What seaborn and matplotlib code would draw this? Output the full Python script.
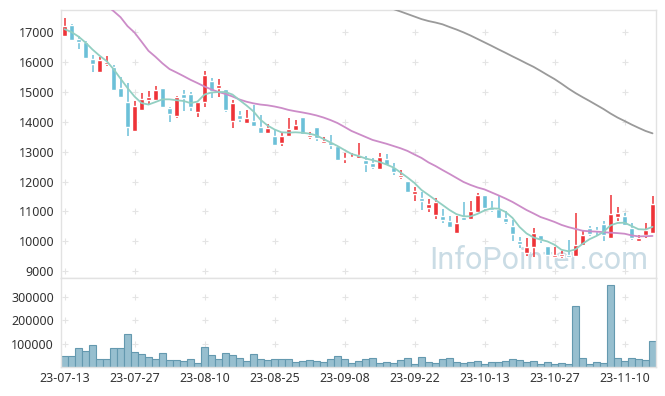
import numpy as np
import pandas as pd
import matplotlib
matplotlib.use("Agg")
import matplotlib.pyplot as plt
import seaborn as sns

# x-axis labels, one every 10 trading days
tick_labels = ["23-07-13", "23-07-27", "23-08-10", "23-08-25", "23-09-08",
               "23-09-22", "23-10-13", "23-10-27", "23-11-10"]

# daily OHLC
opens = [16890, 17250, 16780, 16690, 16110, 15680, 15950, 15840, 15130, 14660,
         13700, 14390, 14730, 14740, 15130, 14450, 14210, 14920, 14920, 14340,
         14660, 15370, 15150, 15090, 14040, 14230, 13950, 14030, 13840, 13640,
         13530, 13300, 13510, 13730, 14160, 13490, 13830, 13300, 13330, 13200,
         12750, 12780, 12800, 12720, 12630, 12430, 12750, 12470, 12160, 12020,
         11570, 11450, 11120, 10890, 10850, 10680, 10290, 10810, 10740, 10990,
         11550, 11090, 11090, 10760, 10520, 10010, 9600, 9790, 10200, 9840,
         9460, 9510, 9540, 9510, 9880, 10430, 10380, 10580, 10100, 10820,
         10850, 10430, 9990, 10210, 10290]
highs = [17470, 17280, 16870, 16700, 16250, 16170, 16200, 15920, 15490, 15290,
         14710, 14970, 15040, 15210, 15140, 14500, 14870, 15070, 14990, 14660,
         15700, 15460, 15450, 15090, 14740, 14370, 14400, 14570, 14230, 13920,
         13750, 13650, 14120, 14060, 14160, 13670, 13830, 13500, 13570, 13200,
         12950, 12950, 13280, 12860, 12780, 12970, 12920, 12610, 12370, 12020,
         11830, 11640, 11410, 11450, 11070, 10850, 10850, 11300, 11330, 11610,
         11550, 11350, 11520, 11000, 10710, 10130, 10100, 10430, 10200, 9840,
         9820, 9670, 10040, 10960, 10380, 10500, 10490, 10660, 11550, 11160,
         10960, 10620, 10210, 10620, 11520]
lows = [16880, 16750, 16450, 16140, 15660, 15680, 15860, 15080, 14820, 13520,
        13700, 14390, 14560, 14740, 14450, 14010, 14120, 14360, 14360, 14170,
        14500, 14790, 14840, 14330, 13780, 14010, 13950, 13870, 13640, 13640,
        13220, 13200, 13500, 13730, 13590, 13420, 13350, 13300, 13090, 12720,
        12610, 12780, 12800, 12330, 12410, 12430, 12540, 12220, 12090, 11660,
        11360, 11060, 10990, 10740, 10600, 10490, 10290, 10700, 10740, 10990,
        11020, 10990, 10760, 10590, 9990, 9760, 9490, 9460, 9930, 9540,
        9460, 9430, 9470, 9510, 9880, 10160, 10210, 9990, 10100, 10660,
        10550, 10040, 9990, 10100, 10290]
closes = [17200, 16750, 16690, 16140, 15940, 16070, 16010, 15080, 14820, 13820,
          14530, 14770, 14830, 15060, 14500, 14260, 14820, 14810, 14510, 14660,
          15560, 15050, 15240, 14400, 14640, 14100, 14130, 13870, 13640, 13800,
          13230, 13530, 13760, 13900, 13600, 13560, 13450, 13370, 13240, 12720,
          12800, 12820, 12900, 12590, 12500, 12830, 12550, 12330, 12230, 11660,
          11690, 11360, 11230, 11320, 10710, 10490, 10610, 10720, 11000, 11550,
          11120, 11060, 10760, 10650, 10250, 9900, 9820, 10290, 10040, 9540,
          9540, 9540, 9470, 9880, 10210, 10230, 10340, 10210, 10910, 10960,
          10550, 10100, 10120, 10380, 11230]
volumes = [47000, 47000, 81000, 69000, 94000, 34000, 34000, 81000, 81000, 141000,
           64000, 56000, 43000, 34000, 60000, 30000, 30000, 26000, 34000, 17000,
           86000, 51000, 34000, 60000, 51000, 39000, 26000, 56000, 34000, 30000,
           34000, 34000, 34000, 21000, 26000, 30000, 26000, 21000, 34000, 47000,
           34000, 17000, 26000, 34000, 39000, 17000, 21000, 17000, 30000, 39000,
           13000, 43000, 21000, 17000, 34000, 39000, 21000, 17000, 21000, 26000,
           13000, 21000, 21000, 26000, 34000, 30000, 21000, 26000, 13000, 21000,
           13000, 17000, 13000, 261000, 39000, 13000, 21000, 17000, 351000, 39000,
           26000, 39000, 34000, 30000, 113000]

# moving averages as drawn (5, 20 and 60 day)
ma5 = [17110, 17010, 16860, 16660, 16425, 16220, 16040, 15770, 15450, 15135,
       14850, 14630, 14580, 14665, 14755, 14755, 14725, 14700, 14630, 14680,
       14915, 14985, 15000, 15000, 14915, 14730, 14550, 14350, 14070, 13880,
       13745, 13650, 13640, 13650, 13635, 13605, 13545, 13425, 13310, 13190,
       13055, 12925, 12855, 12775, 12715, 12655, 12570, 12470, 12305, 12135,
       11950, 11715, 11550, 11380, 11215, 11045, 10905, 10835, 10830, 10915,
       11030, 11100, 11090, 10980, 10780, 10478, 10260, 10125, 10052, 9990,
       9880, 9710, 9660, 9725, 9910, 10065, 10175, 10310, 10530, 10610,
       10620, 10510, 10400, 10390, 10480]
ma20 = [None, None, None, None, None, None, 17900, 17715, 17510, 17210,
        16995, 16690, 16380, 16180, 15960, 15770, 15655, 15535, 15410, 15300,
        15185, 15085, 15000, 14935, 14850, 14750, 14675, 14620, 14580, 14555,
        14515, 14465, 14400, 14355, 14315, 14270, 14215, 14145, 14060, 13960,
        13830, 13695, 13595, 13495, 13395, 13330, 13265, 13190, 13115, 13025,
        12905, 12790, 12640, 12520, 12385, 12255, 12120, 11985, 11885, 11800,
        11735, 11635, 11535, 11430, 11315, 11180, 11045, 10930, 10810, 10730,
        10645, 10545, 10470, 10410, 10350, 10330, 10320, 10300, 10285, 10270,
        10250, 10195, 10160, 10165, 10175]
ma60 = [None] * 46 + [17850, 17780, 17700, 17615,
        17530, 17445, 17380, 17330, 17270, 17180, 17095, 17000, 16895, 16780,
        16665, 16550, 16430, 16315, 16195, 16080, 15960, 15845, 15710, 15570,
        15435, 15280, 15115, 14965, 14830, 14700, 14565, 14430, 14280, 14145,
        14030, 13910, 13800, 13695, 13615]

RED = "#ee3338"
BLUE = "#6cc0d8"
GRID = "#e4e4e4"

df = pd.DataFrame({"open": opens, "high": highs, "low": lows, "close": closes,
                   "volume": volumes, "ma5": ma5, "ma20": ma20, "ma60": ma60})
df["day"] = np.arange(len(df))
df[["ma20", "ma60"]] = df[["ma20", "ma60"]].astype(float)
up = df["close"] >= df["open"]
colors = np.where(up, RED, BLUE)

sns.set_theme(style="white")
plt.rcParams["font.family"] = ["Noto Sans", "DejaVu Sans"]

fig = plt.figure(figsize=(6.65, 3.96), dpi=100)
ax = fig.add_axes([61 / 665, 117.7 / 396, 595 / 665, 268.3 / 396])
axv = fig.add_axes([61 / 665, 28.7 / 396, 595 / 665, 89 / 396])

xticks = list(range(0, len(df), 10))
price_ticks = list(range(9000, 17001, 1000))
vol_ticks = [100000, 200000, 300000]

# grid drawn as small crosses
gx, gy = np.meshgrid(xticks, price_ticks)
ax.plot(gx.ravel(), gy.ravel(), "+", color=GRID, ms=4, mew=0.8, zorder=0)
gx, gy = np.meshgrid(xticks, vol_ticks)
axv.plot(gx.ravel(), gy.ravel(), "+", color=GRID, ms=4, mew=0.8, zorder=0)

ax.text(0.987, 0.036, "InfoPointer.com", transform=ax.transAxes, ha="right",
        va="baseline", fontsize=22, color="#cadce5", family="Roboto", zorder=1)

# candles
ax.vlines(df["day"], df["low"], df["high"], colors=colors, lw=1.1, zorder=2)
body = (df["close"] - df["open"]).abs().clip(lower=45)
ax.bar(df["day"], body, bottom=df[["open", "close"]].min(axis=1), width=0.7,
       color=colors, zorder=3)

# moving averages
for col, c in [("ma60", "#9a9a9a"), ("ma20", "#cc8cc8"), ("ma5", "#92cfc2")]:
    d = df[["day", col]].dropna()
    sns.lineplot(data=d, x="day", y=col, color=c, lw=1.3, ax=ax, zorder=4)

# volume
sns.barplot(x=df["day"], y=df["volume"], color="#97bfcf", saturation=1,
            width=1.0, edgecolor="#6499af", linewidth=0.8, errorbar=None,
            native_scale=True, ax=axv)

ax.set_xlim(-0.5, len(df) - 0.5)
axv.set_xlim(-0.5, len(df) - 0.5)
ax.set_ylim(8755, 17750)
axv.set_ylim(0, 380000)

ax.set_yticks(price_ticks)
ax.set_yticklabels([str(v) for v in price_ticks])
ax.set_xticks(xticks)
ax.set_xticklabels([])
axv.set_yticks(vol_ticks)
axv.set_yticklabels([str(v) for v in vol_ticks])
axv.set_xticks(xticks)
axv.set_xticklabels(tick_labels)

for a in (ax, axv):
    a.set_xlabel("")
    a.set_ylabel("")
    a.tick_params(length=0, labelsize=9, colors="#333333", pad=5)
    for s in a.spines.values():
        s.set_color("#e2e2e2")
        s.set_linewidth(1)
axv.tick_params(axis="x", pad=3.5)

fig.savefig("out.png", dpi=100)
